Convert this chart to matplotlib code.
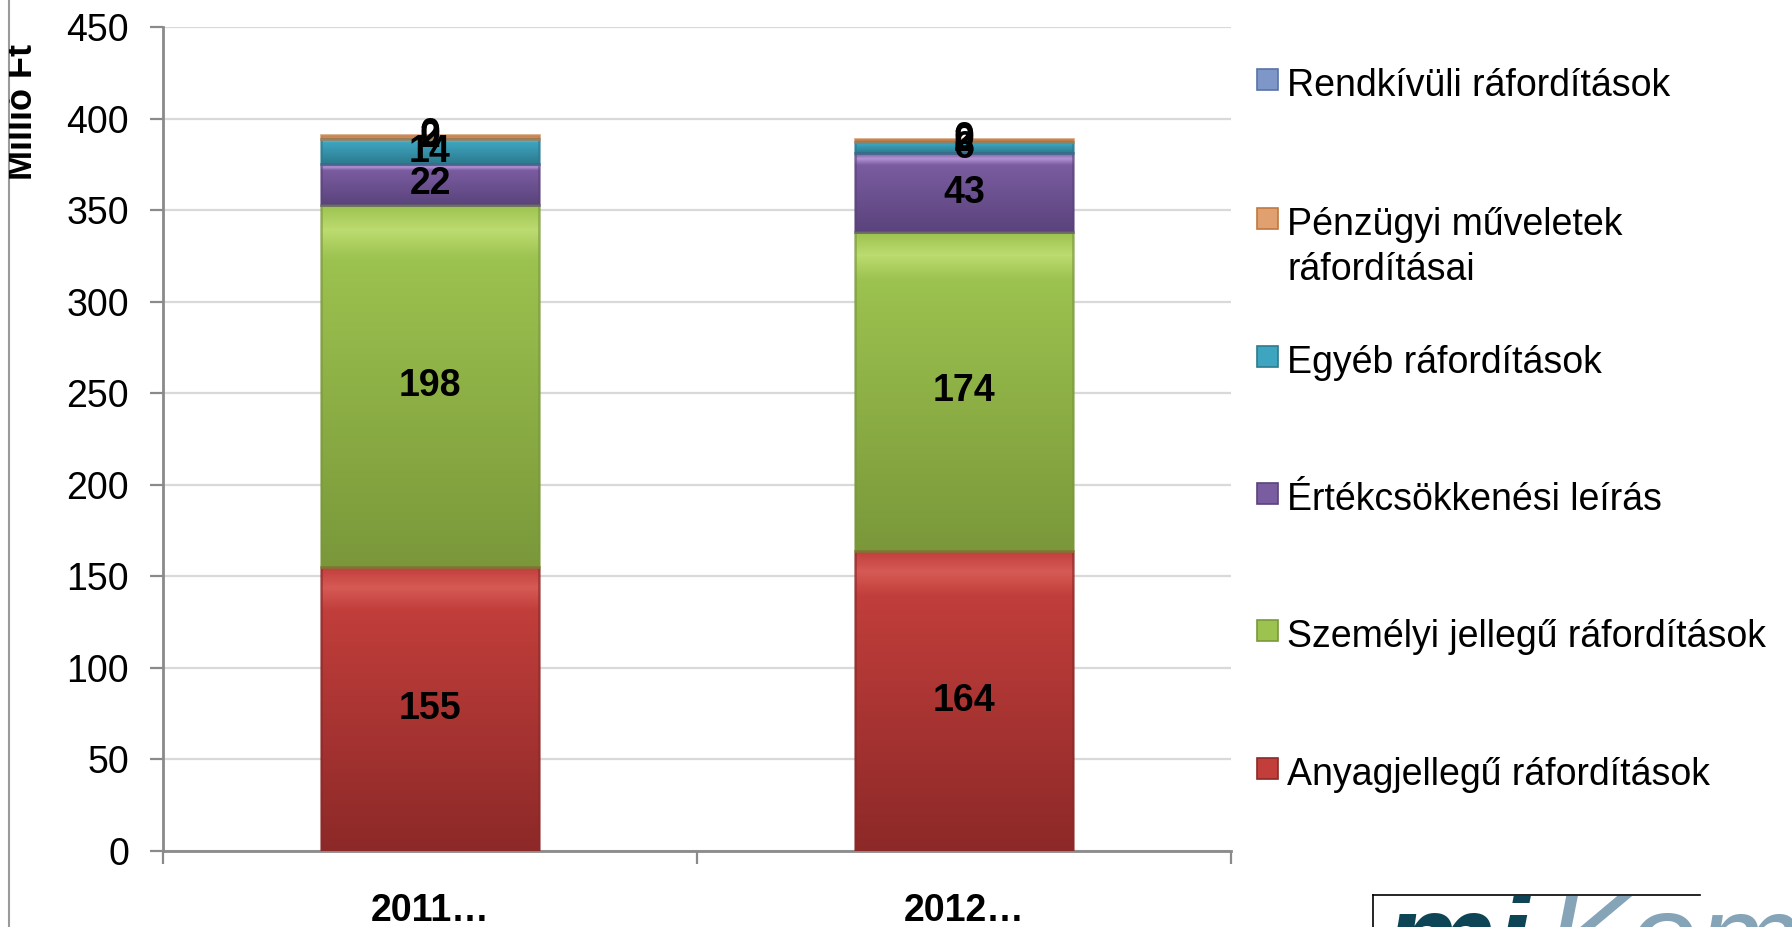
import matplotlib
matplotlib.use('Agg')
import matplotlib.pyplot as plt
import numpy as np
from matplotlib.colors import LinearSegmentedColormap
from matplotlib.patches import Rectangle
from matplotlib.lines import Line2D
from matplotlib.transforms import Bbox, TransformedBbox

plt.rcParams['font.family'] = ['Liberation Sans', 'DejaVu Sans']

# ---- data ----
categories = ['2011…', '2012…']
series_names = ['Anyagjellegű ráfordítások',
                'Személyi jellegű ráfordítások',
                'Értékcsökkenési leírás',
                'Egyéb ráfordítások',
                'Pénzügyi műveletek\nráfordításai',
                'Rendkívüli ráfordítások']
anyag = [155, 164]
szemelyi = [198, 174]
ertekcsokk = [22, 43]
egyeb = [14, 6]
penzugyi = [2, 2]
rendkivuli = [0, 0]
yticks = [0, 50, 100, 150, 200, 250, 300, 350, 400, 450]
y_label = 'Millió Ft'

series_values = [anyag, szemelyi, ertekcsokk, egyeb, penzugyi, rendkivuli]
# (bottom colour, middle colour, top bevel colour)
series_colors = [('#8C2928', '#C13E3B', '#D65A55'),
                 ('#7A983A', '#9CC24F', '#BCDB70'),
                 ('#5A437C', '#7A5CA0', '#B294D4'),
                 ('#2C7A8E', '#3EA5C0', '#6FE0F6'),
                 ('#C07840', '#E0A070', '#F0C090'),
                 ('#5A72A8', '#7F96C8', '#A8BCE0')]

W, H = 1792, 927
fig = plt.figure(figsize=(W / 100, H / 100), dpi=100)
fig.patch.set_facecolor('white')


def fx(px):
    return px / W


def fy(py):
    return 1 - py / H


ax = fig.add_axes([fx(163), fy(851), (1231 - 163) / W, (851 - 27) / H])
x = np.arange(len(categories))
bar_w = 0.41

bottom = np.zeros(len(categories))
for vals, (c_bot, c_mid, c_top) in zip(series_values, series_colors):
    vals = np.array(vals, dtype=float)
    bars = ax.bar(x, vals, bar_w, bottom=bottom, color=c_mid,
                  edgecolor='none', zorder=3)
    cmap = LinearSegmentedColormap.from_list(
        'g', [(0, c_bot), (0.85, c_mid), (0.93, c_top), (1.0, c_mid)])
    for p in bars:
        h = p.get_height()
        if h <= 0:
            continue
        x0 = p.get_x()
        y0 = p.get_y()
        grad = np.linspace(0, 1, 256).reshape(-1, 1)
        im = ax.imshow(grad, extent=[x0, x0 + p.get_width(), y0, y0 + h],
                       origin='lower', cmap=cmap, aspect='auto', zorder=3.1,
                       interpolation='bilinear')
        im.set_clip_path(p)
        # darker side edges (bevel shading)
        edge = Rectangle((x0, y0), p.get_width(), h, facecolor='none',
                         edgecolor=c_bot, lw=2.0, alpha=0.6, zorder=3.2)
        ax.add_patch(edge)
    for xi, v, b in zip(x, vals, bottom):
        ax.text(xi, b + v / 2, f'{v:.0f}', ha='center', va='center',
                fontsize=27, fontweight='bold', color='black', zorder=6)
    bottom = bottom + vals

ax.set_xlim(-0.5, 1.5)
ax.set_ylim(0, 450)
ax.set_yticks(yticks)
ax.yaxis.grid(True, color='#D9D9D9', lw=1.6)
ax.set_axisbelow(True)
for s in ['top', 'right']:
    ax.spines[s].set_visible(False)
for s in ['left', 'bottom']:
    ax.spines[s].set_color('#8A8A8A')
    ax.spines[s].set_linewidth(2)
ax.tick_params(axis='y', length=9.4, width=1.6, color='#8A8A8A',
               labelsize=27, pad=15)
ax.set_xticks([-0.5, 0.5, 1.5])
ax.set_xticklabels([])
ax.tick_params(axis='x', which='major', length=9.4, width=1.6,
               color='#8A8A8A')
ax.set_xticks(x, minor=True)
ax.set_xticklabels(categories, minor=True, fontsize=27, fontweight='bold')
ax.tick_params(axis='x', which='minor', length=0, pad=30)

# y label, clipped by the slide frame
yl = fig.text(fx(40), fy(112), y_label, rotation=90, ha='right',
              va='center', fontsize=26, fontweight='bold')
yl.set_clip_box(TransformedBbox(Bbox([[fx(9), 0], [1, 1]]), fig.transFigure))
yl.set_clip_on(True)
fig.add_artist(Line2D([fx(9), fx(9)], [0, 1], color='#9A9A9A', lw=1.5))

# legend (top to bottom = reverse order of series)
legend_rows = [83, 222, 360, 497, 634, 772]
for row_y, name, (c_bot, c_mid, c_top) in zip(
        legend_rows, series_names[::-1], series_colors[::-1]):
    sq = Rectangle((fx(1257), fy(row_y - 4 + 11)), 21 / W, 21 / H,
                   transform=fig.transFigure, facecolor=c_mid,
                   edgecolor=c_bot, lw=1.2)
    fig.add_artist(sq)
    lines = name.split('\n')
    for k, ln in enumerate(lines):
        fig.text(fx(1287), fy(row_y + 13 + 45 * k), ln, ha='left',
                 va='baseline', fontsize=27, color='black')

# logo fragment at bottom right
fig.add_artist(Line2D([fx(1373), fx(1700)], [fy(895), fy(895)],
                      color='black', lw=1.2))
fig.add_artist(Line2D([fx(1373), fx(1373)], [fy(895), 0],
                      color='black', lw=1.2))
clipbox = TransformedBbox(Bbox([[fx(1374), 0], [fx(1792), fy(896)]]),
                          fig.transFigure)
t1 = fig.text(fx(1385), fy(980), 'mi', fontsize=90, fontweight='bold',
              fontstyle='italic', color='#0E4556', ha='left', va='baseline')
t2 = fig.text(fx(1545), fy(980), 'Kom', fontsize=90,
              fontstyle='italic', color='#86A4B8', ha='left', va='baseline')
for t in (t1, t2):
    t.set_clip_box(clipbox)
    t.set_clip_on(True)

fig.savefig('out.png', dpi=100, facecolor='white')
